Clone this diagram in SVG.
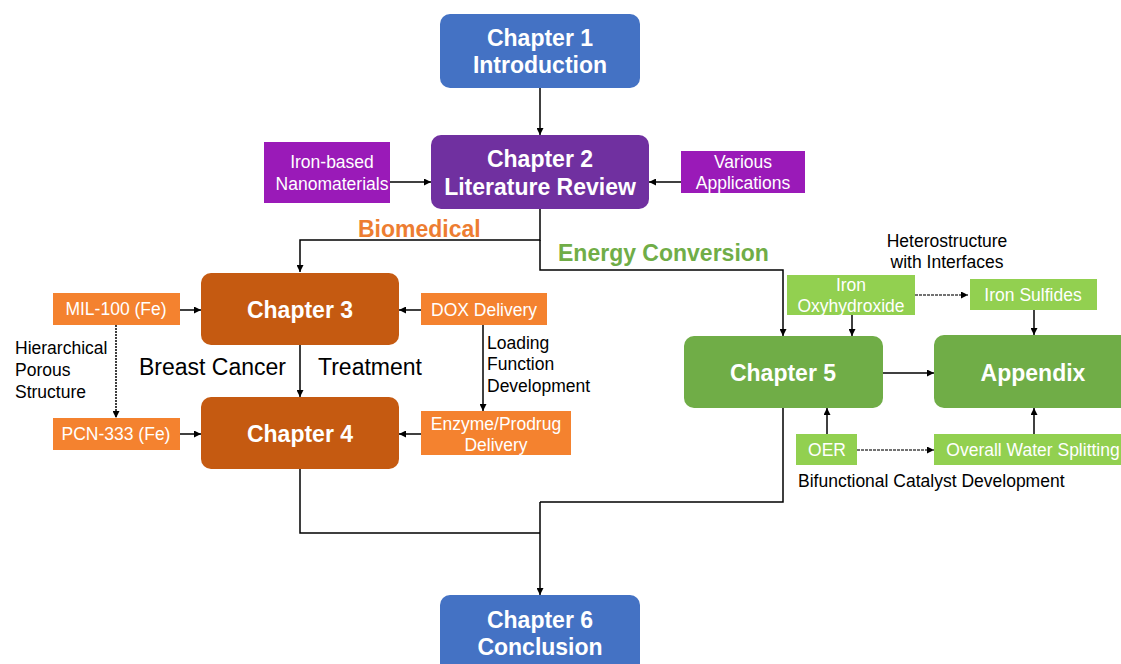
<svg xmlns="http://www.w3.org/2000/svg" width="1121" height="664" viewBox="0 0 1121 664">
<defs>
<marker id="ah" viewBox="0 0 10 10" refX="10" refY="5" markerWidth="7" markerHeight="7" markerUnits="userSpaceOnUse" orient="auto"><path d="M0,0 L10,5 L0,10 z" fill="#000"/></marker>
</defs>
<style>
text{font-family:"Liberation Sans",Arial,sans-serif}
.big{font-size:23px;font-weight:bold;fill:#fff;text-anchor:middle}
.sm{font-size:17.5px;fill:#fff;text-anchor:middle}
.lbl{font-size:17.5px;fill:#000}
.cn{fill:none;stroke:#000;stroke-width:1.5}
.ar{marker-end:url(#ah)}
.dot{stroke-dasharray:2 1}
.grey{stroke:#444;stroke-dasharray:3 1}
</style>
<rect width="1121" height="664" fill="#fff"/>

<g id="connectors">
<path class="cn ar" d="M540,88 V135"/>
<path class="cn ar" d="M390,182 H431"/>
<path class="cn ar" d="M681,182 H649"/>
<path class="cn ar" d="M540,209 V240 H300 V272"/>
<path class="cn ar" d="M540,240 V270 H783 V336"/>
<path class="cn ar" d="M180,310 H201"/>
<path class="cn ar" d="M180,434 H201"/>
<path class="cn ar dot" d="M116,325 V418"/>
<path class="cn ar" d="M300,345 V397"/>
<path class="cn ar" d="M421,310 H399"/>
<path class="cn ar" d="M421,434 H399"/>
<path class="cn ar" d="M483,325 V411"/>
<path class="cn ar grey" d="M915,295 H968"/>
<path class="cn ar" d="M852,315 V336"/>
<path class="cn ar" d="M1034,310 V335"/>
<path class="cn ar" d="M883,373 H934"/>
<path class="cn ar" d="M827,434 V408"/>
<path class="cn ar grey" d="M857,450 H934"/>
<path class="cn ar" d="M1034,434 V408"/>
<path class="cn" d="M783,408 V502 H540"/>
<path class="cn" d="M300,469 V533 H540"/>
<path class="cn ar" d="M540,502 V595"/>
</g>

<g id="ch1"><rect x="440" y="14" width="200" height="74" rx="10" fill="#4472C4"/>
<text class="big" x="540" y="46">Chapter 1</text><text class="big" x="540" y="73">Introduction</text></g>

<g id="ch2"><rect x="431" y="135" width="218" height="74" rx="10" fill="#7030A0"/>
<text class="big" x="540" y="167">Chapter 2</text><text class="big" x="540" y="195">Literature Review</text></g>

<g id="ironbased"><rect x="264" y="142" width="126" height="61" fill="#9A1AB8"/>
<text class="sm" x="332" y="168">Iron-based</text><text class="sm" x="332" y="190">Nanomaterials</text></g>

<g id="various"><rect x="681" y="151" width="124" height="42" fill="#9A1AB8"/>
<text class="sm" x="743" y="168">Various</text><text class="sm" x="743" y="189">Applications</text></g>

<g id="biomedical"><text x="358" y="237" font-size="23" font-weight="bold" fill="#ED7D31">Biomedical</text></g>
<g id="energy"><text x="558" y="261" font-size="23" font-weight="bold" fill="#70AD47">Energy Conversion</text></g>

<g id="ch3"><rect x="201" y="273" width="198" height="72" rx="10" fill="#C55A11"/>
<text class="big" x="300" y="318">Chapter 3</text></g>

<g id="ch4"><rect x="201" y="397" width="198" height="72" rx="10" fill="#C55A11"/>
<text class="big" x="300" y="442">Chapter 4</text></g>

<g id="mil"><rect x="53" y="293" width="127" height="32" fill="#F4822F"/>
<text class="sm" x="116" y="315">MIL-100 (Fe)</text></g>

<g id="pcn"><rect x="53" y="418" width="127" height="32" fill="#F4822F"/>
<text class="sm" x="116" y="440">PCN-333 (Fe)</text></g>

<g id="hier"><text class="lbl" x="15" y="354">Hierarchical</text><text class="lbl" x="15" y="376">Porous</text><text class="lbl" x="15" y="398">Structure</text></g>

<g id="breast"><text x="139" y="375" font-size="23" fill="#000">Breast Cancer</text></g>
<g id="treat"><text x="318" y="375" font-size="23" fill="#000">Treatment</text></g>

<g id="dox"><rect x="421" y="293" width="126" height="32" fill="#F4822F"/>
<text class="sm" x="484" y="316">DOX Delivery</text></g>

<g id="enzyme"><rect x="421" y="411" width="150" height="44" fill="#F4822F"/>
<text class="sm" x="496" y="430">Enzyme/Prodrug</text><text class="sm" x="496" y="451">Delivery</text></g>

<g id="loading"><text class="lbl" x="487" y="349">Loading</text><text class="lbl" x="487" y="370">Function</text><text class="lbl" x="487" y="392">Development</text></g>

<g id="ch5"><rect x="684" y="336" width="199" height="72" rx="10" fill="#70AD47"/>
<text class="big" x="783" y="381">Chapter 5</text></g>

<g id="appendix"><rect x="934" y="335" width="198" height="73" rx="10" fill="#70AD47"/>
<text class="big" x="1033" y="381">Appendix</text></g>

<g id="hetero"><text class="lbl" x="947" y="247" text-anchor="middle">Heterostructure</text><text class="lbl" x="947" y="268" text-anchor="middle">with Interfaces</text></g>

<g id="ironoxy"><rect x="787" y="275" width="128" height="40" fill="#92D050"/>
<text class="sm" x="851" y="291">Iron</text><text class="sm" x="851" y="312">Oxyhydroxide</text></g>

<g id="ironsulf"><rect x="970" y="279" width="127" height="31" fill="#92D050"/>
<text class="sm" x="1033" y="301">Iron Sulfides</text></g>

<g id="oer"><rect x="796" y="434" width="61" height="31" fill="#92D050"/>
<text class="sm" x="827" y="456">OER</text></g>

<g id="ows"><rect x="934" y="434" width="200" height="31" fill="#92D050"/>
<text class="sm" x="1033" y="456">Overall Water Splitting</text></g>

<g id="bifunc"><text class="lbl" x="798" y="487">Bifunctional Catalyst Development</text></g>

<g id="ch6"><rect x="440" y="595" width="200" height="80" rx="10" fill="#4472C4"/>
<text class="big" x="540" y="628">Chapter 6</text><text class="big" x="540" y="655">Conclusion</text></g>
</svg>
